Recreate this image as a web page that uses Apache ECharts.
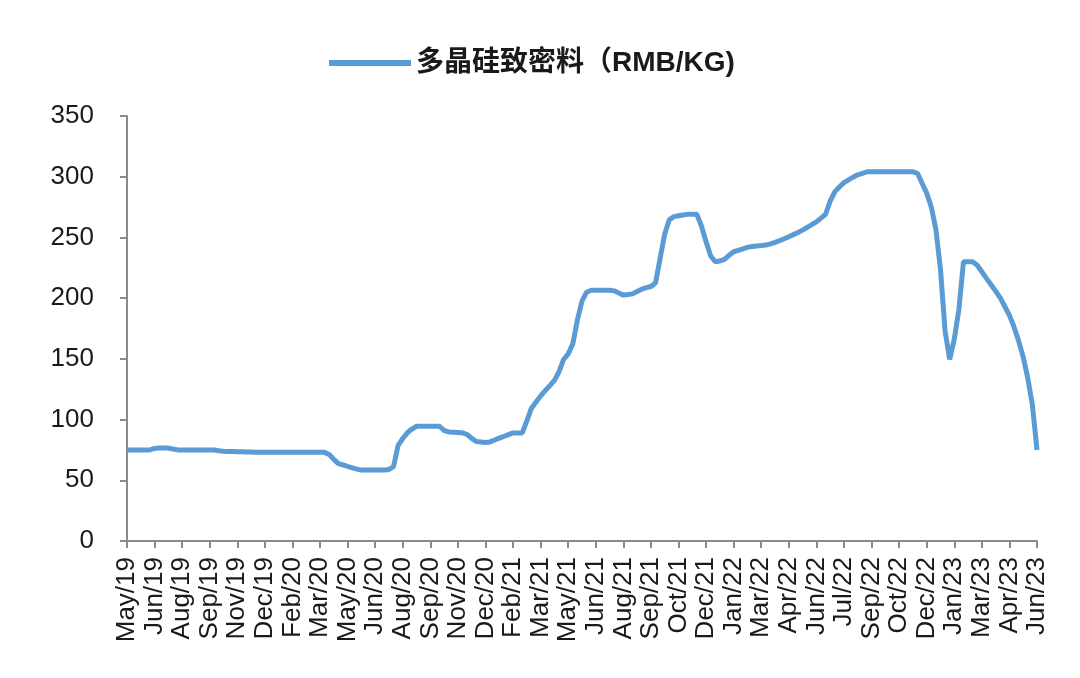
<!DOCTYPE html>
<html>
<head>
<meta charset="utf-8">
<script src="https://cdn.jsdelivr.net/npm/echarts@6/dist/echarts.min.js"></script>
<style>html,body{margin:0;padding:0;background:#fff;}#c{width:1080px;height:678px;}</style>
</head>
<body>
<div id="c"></div>
<script>
// Tick labels (one every 6 data points)
const tickLabels = ['May/19','Jun/19','Aug/19','Sep/19','Nov/19','Dec/19','Feb/20','Mar/20','May/20','Jun/20','Aug/20','Sep/20','Nov/20','Dec/20','Feb/21','Mar/21','May/21','Jun/21','Aug/21','Sep/21','Oct/21','Dec/21','Jan/22','Mar/22','Apr/22','Jun/22','Jul/22','Sep/22','Oct/22','Dec/22','Jan/23','Mar/23','Apr/23','Jun/23'];
const pointsPerLabel = 6;
const seriesName = '多晶硅致密料（RMB/KG)';
// Price values (RMB/KG)
const prices = [
 75,75,75,75,75,75,76.2,76.5,76.5,76.5,75.8,75,75,75,75,75,75,75,75,75,
 74.3,73.9,73.8,73.7,73.6,73.5,73.3,73.2,73.1,73,73,73,73,73,73,73,73,73,73,73,
 73,73,73,73,71.3,67.2,63.7,62.6,61.4,60.3,59.2,58.5,58.5,58.5,58.5,58.5,58.5,58.9,61.3,78.8,
 84.4,89.1,92.2,94.5,94.5,94.5,94.5,94.5,94.5,91,89.8,89.6,89.4,89.1,87.7,84.5,81.9,81.6,81.2,81.6,
 83.2,84.7,86.1,87.6,89,89,89,99,109.4,114.5,119.5,123.8,128,132.3,139.4,149.5,154.1,162.3,182,197.5,
 204.9,206.5,206.5,206.5,206.5,206.5,206,204.2,202.5,203,203.5,205.5,207.4,208.7,209.6,212.7,232.8,252.9,264.5,267.1,
 267.8,268.4,269,269,269,259.2,246.4,234.7,230,230.6,232,235.3,238.2,239.4,240.6,241.8,242.6,243,243.3,243.7,
 244.7,246,247.4,248.9,250.6,252.3,254,256,258.3,260.5,262.8,265.9,269.1,279.9,287.5,291.5,295.1,297.4,299.6,301.6,
 302.8,304,304,304,304,304,304,304,304,304,304,304,302.8,294.6,286.5,275,256.6,223.8,172.9,149.5,
 166.2,190.6,230,230,230,227.1,221.7,216.3,211,205.8,200.2,193.1,185.8,176.3,164.8,151.4,134.1,112,75
];

const categories = [];
tickLabels.forEach((l, j) => {
  categories.push(l);
  if (j < tickLabels.length - 1) {
    for (let s = 1; s < pointsPerLabel; s++) categories.push(l + '_' + s);
  }
});
const isLabelIdx = (idx) => idx % pointsPerLabel === 0;

const axisColor = '#8a8a8a';
const chart = echarts.init(document.getElementById('c'));
chart.setOption({
  backgroundColor: '#ffffff',
  animation: false,
  legend: {
    data: [seriesName],
    left: 324, top: 44,
    icon: 'rect', itemWidth: 82, itemHeight: 6, itemGap: 10,
    textStyle: { fontSize: 28, fontWeight: 'bold', color: '#1a1a1a', fontFamily: 'Liberation Sans, Noto Sans CJK SC, sans-serif' }
  },
  grid: { left: 127, right: 43, top: 116, bottom: 137 },
  xAxis: {
    type: 'category', data: categories, boundaryGap: false,
    axisLine: { lineStyle: { color: axisColor, width: 2 } },
    axisTick: { show: true, interval: isLabelIdx, length: 7, lineStyle: { color: axisColor, width: 2 } },
    axisLabel: {
      interval: isLabelIdx, rotate: 90, margin: 16,
      formatter: (v, idx) => isLabelIdx(idx) ? tickLabels[idx / pointsPerLabel] : '',
      fontSize: 26, color: '#1a1a1a', fontFamily: 'Liberation Sans, Arial, sans-serif'
    },
    splitLine: { show: false }
  },
  yAxis: {
    type: 'value', min: 0, max: 350, interval: 50,
    axisLine: { show: true, lineStyle: { color: axisColor, width: 2 } },
    axisTick: { show: true, length: 7, lineStyle: { color: axisColor, width: 2 } },
    axisLabel: { fontSize: 26, color: '#1a1a1a', margin: 33, fontFamily: 'Liberation Sans, Arial, sans-serif' },
    splitLine: { show: false }
  },
  series: [{
    name: seriesName, type: 'line', data: prices,
    showSymbol: false, symbol: 'none',
    lineStyle: { color: '#5B9BD5', width: 5 },
    itemStyle: { color: '#5B9BD5' }
  }]
});
</script>
</body>
</html>
